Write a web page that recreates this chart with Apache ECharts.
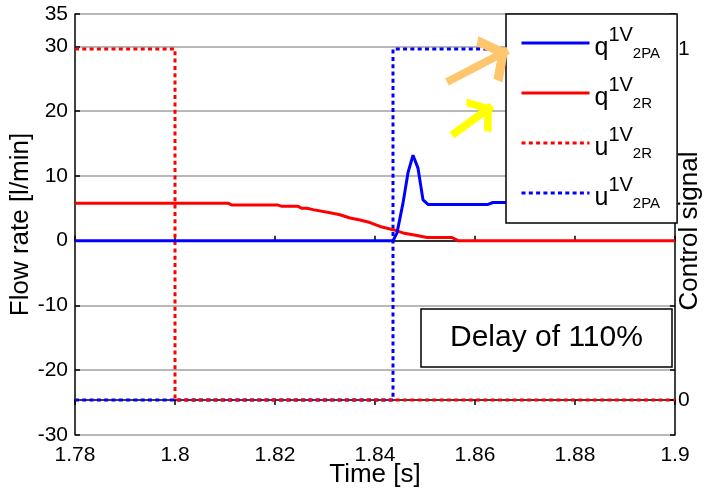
<!DOCTYPE html>
<html>
<head>
<meta charset="utf-8">
<script src="https://cdn.jsdelivr.net/npm/echarts@6/dist/echarts.min.js"></script>
<style>
html, body { margin: 0; padding: 0; background: #fff; }
#chart { width: 710px; height: 492px; }
</style>
</head>
<body>
<div id="chart"></div>
<script>
const FONT = '"Liberation Sans", Arial, sans-serif'

// legend entries: main letter, superscript, subscript
const seriesNames = ['q1V2PA', 'q1V2R', 'u1V2R', 'u1V2PA']
const legendMain = ['q', 'q', 'u', 'u']
const legendSup = ['1V', '1V', '1V', '1V']
const legendSub = ['2PA', '2R', '2R', '2PA']

// q 1V 2PA, flow rate [l/min] (solid blue)
const qPaTime = [1.78, 1.8436, 1.8444, 1.8456, 1.8466, 1.8476, 1.8486, 1.8496, 1.8506, 1.8626, 1.8636, 1.9]
const qPaFlow = [0, 0, 1.2, 5.8, 10.5, 13.2, 11.2, 6.3, 5.6, 5.6, 5.9, 5.9]

// q 1V 2R, flow rate [l/min] (solid red)
const qRTime = [1.78, 1.8106, 1.8114, 1.8206, 1.8214, 1.8246, 1.8254, 1.8264, 1.8276, 1.831, 1.833, 1.835,
  1.837, 1.839, 1.841, 1.8436, 1.8456, 1.8484, 1.8504, 1.8554, 1.8566, 1.9]
const qRFlow = [5.8, 5.8, 5.5, 5.5, 5.3, 5.3, 5.0, 5.0, 4.8, 4.3, 4.0, 3.5,
  3.2, 2.8, 2.2, 1.7, 1.2, 0.8, 0.5, 0.5, 0, 0]

// control signals (right axis)
const uRTime = [1.78, 1.8, 1.8, 1.9]
const uRSignal = [1, 1, 0, 0]
const uPaTime = [1.78, 1.8436, 1.8436, 1.9]
const uPaSignal = [0, 0, 1, 1]

// annotation arrows [time, flow]
const arrowOrange = [[1.8544, 24.5], [1.8666, 29.4]]
const arrowYellow = [[1.8554, 16.3], [1.8634, 20.8]]

const pairs = (xs, ys) => xs.map((x, i) => [x, ys[i]])

const chevron = 'path://M50,0 L50.5,0 L50,0.5 Z M50,50 L92,88 L80,100 L50,72 L20,100 L8,88 Z'

const myChart = echarts.init(document.getElementById('chart'))

const rich = {
  q: { fontSize: 25, lineHeight: 24, verticalAlign: 'bottom', fontFamily: FONT, color: '#000' },
  sup: { fontSize: 20, lineHeight: 20, verticalAlign: 'top', fontFamily: FONT, color: '#000' },
  sub: { fontSize: 15, lineHeight: 18, verticalAlign: 'bottom', fontFamily: FONT, color: '#000' },
  pad: { lineHeight: 36 }
}

const axisBlack = { show: true, lineStyle: { color: '#000', width: 1.5 } }
const tickIn = { show: true, inside: true, length: 5, lineStyle: { color: '#000', width: 1.5 } }

const options = {
  animation: false,
  backgroundColor: '#fff',
  grid: { left: 75, right: 35, top: 14, bottom: 57, outerBoundsMode: 'none' },
  title: {
    text: 'Delay of 110%',
    left: 421,
    top: 309,
    padding: [13, 29],
    borderColor: '#000',
    borderWidth: 1.5,
    backgroundColor: '#fff',
    textStyle: { fontSize: 30, fontWeight: 'normal', color: '#000', fontFamily: FONT, lineHeight: 32 }
  },
  legend: {
    data: seriesNames,
    orient: 'vertical',
    left: 506,
    top: 14,
    padding: [11, 17, 12, 14],
    itemWidth: 68,
    itemHeight: 12,
    itemGap: 14,
    backgroundColor: '#fff',
    borderColor: '#000',
    borderWidth: 1.5,
    borderRadius: 0,
    selectedMode: false,
    itemStyle: { color: 'rgba(0,0,0,0)', borderColor: 'rgba(0,0,0,0)', borderWidth: 0, opacity: 0 },
    lineStyle: { width: 3 },
    formatter: (name) => {
      const i = seriesNames.indexOf(name)
      return `{pad|}{q|${legendMain[i]}}{sup|${legendSup[i]}}{sub|${legendSub[i]}}`
    },
    textStyle: { rich: rich }
  },
  xAxis: [
    {
      type: 'value',
      min: 1.78,
      max: 1.9,
      interval: 0.02,
      name: 'Time [s]',
      nameLocation: 'middle',
      nameGap: 27,
      nameMoveOverlap: false,
      nameTextStyle: { fontSize: 26, color: '#000', fontFamily: FONT },
      axisLine: axisBlack,
      axisTick: tickIn,
      splitLine: { show: false },
      axisLabel: {
        fontSize: 21, color: '#000', fontFamily: FONT, margin: 10,
        formatter: (v) => String(+v.toFixed(2))
      }
    },
    {
      type: 'value',
      position: 'top',
      min: 1.78,
      max: 1.9,
      interval: 0.02,
      axisLine: axisBlack,
      axisTick: tickIn,
      axisLabel: { show: false },
      splitLine: { show: false }
    }
  ],
  yAxis: [
    {
      type: 'value',
      min: -30,
      max: 35,
      interval: 10,
      name: 'Flow rate [l/min]',
      nameLocation: 'middle',
      nameRotate: 90,
      nameGap: 41,
      nameMoveOverlap: false,
      nameTextStyle: { fontSize: 26, color: '#000', fontFamily: FONT },
      axisLine: axisBlack,
      axisTick: tickIn,
      splitLine: { show: true, lineStyle: { color: '#a0a0a0', width: 1.5 } },
      axisLabel: { fontSize: 21, color: '#000', fontFamily: FONT, margin: 7 }
    },
    {
      type: 'value',
      position: 'right',
      min: -0.1,
      max: 1.1,
      name: 'Control signal',
      nameLocation: 'middle',
      nameRotate: 90,
      nameGap: 2,
      nameMoveOverlap: false,
      nameTextStyle: { fontSize: 26, color: '#000', fontFamily: FONT, padding: [0, 13, 0, 0] },
      axisLine: axisBlack,
      axisTick: Object.assign({}, tickIn, { customValues: [0, 1] }),
      axisLabel: { fontSize: 21, color: '#000', fontFamily: FONT, margin: 3, customValues: [0, 1] },
      splitLine: { show: false }
    },
    {
      type: 'value',
      position: 'right',
      min: -30,
      max: 35,
      interval: 10,
      axisLine: { show: false },
      axisTick: tickIn,
      axisLabel: { show: false },
      splitLine: { show: false }
    }
  ],
  series: [
    {
      name: seriesNames[3],
      type: 'line',
      yAxisIndex: 1,
      data: pairs(uPaTime, uPaSignal),
      symbol: 'none',
      color: '#0000ff',
      lineStyle: { color: '#0000ff', width: 3, type: [4, 3.3] }
    },
    {
      name: seriesNames[2],
      type: 'line',
      yAxisIndex: 1,
      data: pairs(uRTime, uRSignal),
      symbol: 'none',
      color: '#ff0000',
      lineStyle: { color: '#ff0000', width: 3, type: [4, 3.3] }
    },
    {
      name: seriesNames[1],
      type: 'line',
      data: pairs(qRTime, qRFlow),
      symbol: 'none',
      color: '#ff0000',
      lineStyle: { color: '#ff0000', width: 3 }
    },
    {
      name: seriesNames[0],
      type: 'line',
      data: pairs(qPaTime, qPaFlow),
      symbol: 'none',
      color: '#0000ff',
      lineStyle: { color: '#0000ff', width: 3 },
      markLine: {
        silent: true,
        animation: false,
        symbol: ['none', chevron],
        label: { show: false },
        emphasis: { disabled: true },
        data: [
          [
            { coord: arrowOrange[0], symbolSize: 52, lineStyle: { color: '#ffc66d', width: 8, type: 'solid' } },
            { coord: arrowOrange[1], symbolSize: 52, lineStyle: { color: '#ffc66d', width: 8, type: 'solid' } }
          ],
          [
            { coord: arrowYellow[0], symbolSize: 42, lineStyle: { color: '#ffff00', width: 8, type: 'solid' } },
            { coord: arrowYellow[1], symbolSize: 42, lineStyle: { color: '#ffff00', width: 8, type: 'solid' } }
          ]
        ]
      }
    }
  ]
}

myChart.setOption(options)
</script>
</body>
</html>
